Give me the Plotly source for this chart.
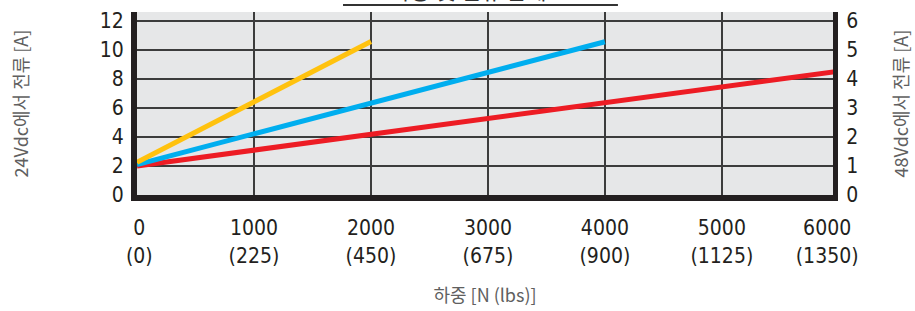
import plotly.graph_objects as go

# ---- data ----
load_yellow = [0, 2000]
amps_yellow = [2.25, 10.57]
load_blue = [0, 4000]
amps_blue = [2.1, 10.55]
load_red = [0, 6000]
amps_red = [2.0, 8.53]

x_grid_vals = [1000, 2000, 3000, 4000, 5000]
x_tick_vals = [20, 1000, 2000, 3000, 4000, 5000, 5900]
x_tick_text = ["0<br>(0)", "1000<br>(225)", "2000<br>(450)", "3000<br>(675)",
               "4000<br>(900)", "5000<br>(1125)", "6000<br>(1350)"]
y_left_ticks = [0, 2, 4, 6, 8, 10, 12]
y_right_ticks = [0, 1, 2, 3, 4, 5, 6]

title_text = "하중 및 전류 관계도"
y_left_title = "24Vdc에서 전류 [A]"
y_right_title = "48Vdc에서 전류 [A]"
x_title = "하중 [N (lbs)]"

narrow = "DejaVu Sans Condensed, Liberation Sans Narrow, Roboto, sans-serif"
cjk = "Noto Sans CJK KR, Noto Sans, sans-serif"
ink = "#231F20"
grid = "#3C3C3C"

fig = go.Figure()
fig.add_trace(go.Scatter(x=load_red, y=amps_red, mode="lines",
                         line=dict(color="#ED1C24", width=5), showlegend=False))
fig.add_trace(go.Scatter(x=load_blue, y=amps_blue, mode="lines",
                         line=dict(color="#00AEEF", width=5), showlegend=False))
fig.add_trace(go.Scatter(x=load_yellow, y=amps_yellow, mode="lines",
                         line=dict(color="#FFC20E", width=5), showlegend=False))
# invisible trace to activate right axis
fig.add_trace(go.Scatter(x=[0], y=[0], yaxis="y2", mode="markers",
                         marker=dict(opacity=0), showlegend=False, hoverinfo="skip"))

fig.update_layout(
    width=915, height=311,
    margin=dict(l=137, r=82, t=12, b=116),
    paper_bgcolor="white",
    plot_bgcolor="#E6E7E8",
    xaxis=dict(
        range=[0, 5950], tickmode="array", tickvals=x_tick_vals, ticktext=x_tick_text,
        showgrid=False, zeroline=False, automargin=False,
        minor=dict(tickmode="array", tickvals=x_grid_vals, showgrid=True,
                   gridcolor=grid, gridwidth=2, ticks=""),
        showline=True, linecolor=ink, linewidth=6,
        ticks="", ticklabelstandoff=9,
        tickfont=dict(family=narrow, size=21, color=ink),
        title=dict(text=x_title, font=dict(family=cjk, size=18, color="#606060"), standoff=25),
    ),
    yaxis=dict(
        range=[0, 12.6], tickmode="array", tickvals=y_left_ticks,
        showgrid=True, gridcolor=grid, gridwidth=2, zeroline=False, automargin=False,
        showline=True, linecolor=ink, linewidth=6,
        ticks="", ticklabelstandoff=3,
        tickfont=dict(family=narrow, size=21, color=ink),
        title=dict(text=y_left_title, font=dict(family=cjk, size=18, color="#606060"), standoff=68),
    ),
    yaxis2=dict(
        range=[0, 6.3], tickmode="array", tickvals=y_right_ticks,
        overlaying="y", side="right", showgrid=False, zeroline=False, automargin=False,
        showline=True, linecolor=ink, linewidth=5,
        ticks="", ticklabelstandoff=4,
        tickfont=dict(family=narrow, size=21, color=ink),
        title=dict(text=y_right_title, font=dict(family=cjk, size=18, color="#606060"), standoff=40),
    ),
    annotations=[dict(
        text=title_text, xref="paper", yref="paper", x=0.49, y=1.0,
        yanchor="bottom", xanchor="center", yshift=5, showarrow=False,
        font=dict(family=cjk, size=22, color="#333333"),
    )],
    shapes=[dict(type="line", xref="paper", yref="paper", ysizemode="pixel", yanchor=1.0,
                 x0=0.296, x1=0.691, y0=7, y1=7, line=dict(color="#333333", width=2))],
)

fig.write_html("out.html", config={"displayModeBar": False},
               post_script="document.body.style.margin='0';")
